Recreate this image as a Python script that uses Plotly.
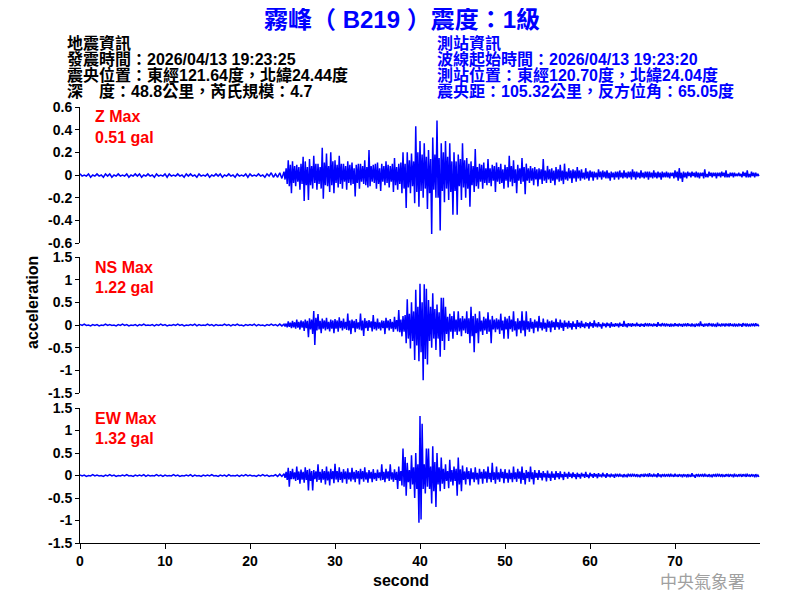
import numpy as np
import plotly.graph_objects as go

# ---------------- data ----------------
QUIET_STEP = 0.25     # s, spacing of the pre-event noise values (from t = 0)
ACTIVE_START = 24.0   # s, start of the event part
ACTIVE_STEP = 0.125   # s, spacing of the event part values

# Z component (gal)
Z_QUIET = [
    0.01, -0.01, 0.00, -0.01, 0.01, -0.02, 0.00, -0.01, 0.01, -0.01, 0.00, -0.02,
    0.01, -0.01, 0.01, -0.02, 0.00, -0.01, 0.01, -0.01, 0.00, -0.01, 0.01, -0.02,
    0.00, -0.01, 0.01, -0.01, 0.01, -0.02, 0.00, -0.01, 0.01, -0.01, 0.00, -0.02,
    0.01, -0.01, 0.00, -0.01, 0.01, -0.02, 0.01, -0.01, 0.00, -0.01, 0.01, -0.01,
    0.00, -0.02, 0.01, -0.01, 0.01, -0.01, 0.00, -0.02, 0.01, -0.01, 0.00, -0.01,
    0.01, -0.02, 0.00, -0.01, 0.01, -0.01, 0.01, -0.02, 0.00, -0.01, 0.01, -0.01,
    0.00, -0.02, 0.01, -0.01, 0.00, -0.01, 0.01, -0.02, 0.01, -0.01, 0.00, -0.01,
    0.01, -0.01, 0.00, -0.02, 0.01, -0.01, 0.02, -0.02, 0.01, -0.02, 0.02, -0.03,
]
Z_ACTIVE = [
    0.03, -0.04, 0.06, -0.08, 0.13, -0.10, 0.09, -0.16,   # 24 s
    0.12, -0.07, 0.08, -0.10, 0.09, -0.06, 0.07, -0.13,   # 25
    0.10, -0.08, 0.16, -0.23, 0.12, -0.09, 0.07, -0.22,   # 26
    0.14, -0.09, 0.08, -0.12, 0.17, -0.07, 0.10, -0.13,   # 27
    0.10, -0.08, 0.07, -0.12, 0.24, -0.21, 0.11, -0.09,   # 28
    0.19, -0.10, 0.08, -0.15, 0.20, -0.09, 0.12, -0.16,   # 29
    0.13, -0.07, 0.09, -0.11, 0.17, -0.08, 0.10, -0.12,   # 30
    0.10, -0.06, 0.08, -0.13, 0.12, -0.07, 0.09, -0.09,   # 31
    0.11, -0.08, 0.06, -0.19, 0.09, -0.07, 0.10, -0.12,   # 32
    0.10, -0.06, 0.08, -0.08, 0.13, -0.09, 0.07, -0.11,   # 33
    0.22, -0.10, 0.08, -0.06, 0.09, -0.07, 0.10, -0.12,   # 34
    0.11, -0.08, 0.06, -0.14, 0.10, -0.06, 0.08, -0.09,   # 35
    0.12, -0.07, 0.09, -0.11, 0.08, -0.06, 0.10, -0.15,   # 36
    0.15, -0.09, 0.07, -0.13, 0.10, -0.08, 0.11, -0.16,   # 37
    0.20, -0.12, 0.10, -0.29, 0.20, -0.11, 0.13, -0.16,   # 38
    0.19, -0.10, 0.12, -0.25, 0.43, -0.15, 0.20, -0.28,   # 39
    0.30, -0.14, 0.18, -0.20, 0.28, -0.12, 0.16, -0.30,   # 40
    0.22, -0.16, 0.14, -0.52, 0.33, -0.13, 0.18, -0.20,   # 41
    0.48, -0.20, 0.15, -0.49, 0.28, -0.14, 0.20, -0.24,   # 42
    0.30, -0.12, 0.16, -0.22, 0.28, -0.15, 0.12, -0.35,   # 43
    0.20, -0.14, 0.12, -0.35, 0.18, -0.10, 0.14, -0.22,   # 44
    0.28, -0.11, 0.13, -0.20, 0.15, -0.12, 0.10, -0.28,   # 45
    0.12, -0.09, 0.08, -0.15, 0.23, -0.10, 0.07, -0.12,   # 46
    0.10, -0.06, 0.09, -0.12, 0.11, -0.07, 0.06, -0.09,   # 47
    0.14, -0.07, 0.06, -0.10, 0.09, -0.05, 0.08, -0.15,   # 48
    0.11, -0.06, 0.07, -0.08, 0.10, -0.07, 0.05, -0.12,   # 49
    0.09, -0.05, 0.07, -0.11, 0.17, -0.06, 0.08, -0.10,   # 50
    0.13, -0.07, 0.05, -0.16, 0.09, -0.05, 0.06, -0.08,   # 51
    0.15, -0.06, 0.07, -0.17, 0.10, -0.05, 0.06, -0.07,   # 52
    0.08, -0.05, 0.06, -0.09, 0.07, -0.04, 0.05, -0.10,   # 53
    0.06, -0.04, 0.05, -0.08, 0.14, -0.05, 0.04, -0.07,   # 54
    0.08, -0.04, 0.05, -0.07, 0.06, -0.05, 0.04, -0.09,   # 55
    0.07, -0.04, 0.05, -0.06, 0.09, -0.05, 0.04, -0.08,   # 56
    0.10, -0.04, 0.03, -0.05, 0.06, -0.03, 0.04, -0.07,   # 57
    0.05, -0.03, 0.04, -0.06, 0.07, -0.03, 0.04, -0.05,   # 58
    0.05, -0.03, 0.02, -0.04, 0.06, -0.03, 0.03, -0.05,   # 59
    0.04, -0.02, 0.03, -0.05, 0.03, -0.02, 0.02, -0.04,   # 60
    0.05, -0.02, 0.03, -0.04, 0.04, -0.02, 0.03, -0.03,   # 61
    0.04, -0.03, 0.02, -0.05, 0.03, -0.02, 0.02, -0.04,   # 62
    0.03, -0.02, 0.03, -0.04, 0.04, -0.02, 0.02, -0.03,   # 63
    0.04, -0.02, 0.02, -0.03, 0.03, -0.02, 0.03, -0.04,   # 64
    0.05, -0.02, 0.03, -0.04, 0.03, -0.02, 0.02, -0.03,   # 65
    0.04, -0.02, 0.02, -0.03, 0.03, -0.02, 0.03, -0.04,   # 66
    0.03, -0.02, 0.02, -0.03, 0.04, -0.02, 0.02, -0.03,   # 67
    0.03, -0.02, 0.02, -0.04, 0.03, -0.02, 0.02, -0.02,   # 68
    0.03, -0.02, 0.02, -0.03, 0.02, -0.01, 0.02, -0.03,   # 69
    0.04, -0.02, 0.03, -0.05, 0.06, -0.03, 0.02, -0.06,   # 70
    0.03, -0.02, 0.02, -0.03, 0.03, -0.01, 0.02, -0.02,   # 71
    0.03, -0.01, 0.02, -0.02, 0.03, -0.02, 0.02, -0.03,   # 72
    0.02, -0.01, 0.02, -0.03, 0.05, -0.02, 0.01, -0.02,   # 73
    0.03, -0.01, 0.02, -0.02, 0.02, -0.01, 0.02, -0.03,   # 74
    0.02, -0.01, 0.02, -0.02, 0.03, -0.01, 0.02, -0.02,   # 75
    0.04, -0.02, 0.01, -0.02, 0.02, -0.01, 0.02, -0.02,   # 76
    0.02, -0.01, 0.01, -0.01, 0.02, -0.01, 0.01, -0.02,   # 77
    0.03, -0.01, 0.02, -0.02, 0.04, -0.02, 0.01, -0.02,   # 78
    0.03, -0.01, 0.02, -0.02, 0.02, -0.01, 0.01, -0.01,   # 79
]

# NS component (gal)
NS_QUIET = [
    0.01, -0.01, 0.02, -0.01, 0.00, -0.02, 0.01, -0.01, 0.01, -0.02, 0.00, -0.01,
    0.02, -0.01, 0.01, -0.01, 0.00, -0.02, 0.01, -0.01, 0.02, -0.01, 0.01, -0.02,
    0.00, -0.01, 0.01, -0.02, 0.01, -0.01, 0.02, -0.01, 0.00, -0.01, 0.01, -0.02,
    0.01, -0.01, 0.02, -0.01, 0.01, -0.02, 0.00, -0.01, 0.01, -0.01, 0.02, -0.01,
    0.01, -0.02, 0.00, -0.01, 0.01, -0.01, 0.02, -0.02, 0.01, -0.01, 0.00, -0.01,
    0.02, -0.01, 0.01, -0.02, 0.01, -0.01, 0.00, -0.01, 0.02, -0.01, 0.01, -0.02,
    0.01, -0.01, 0.02, -0.01, 0.00, -0.02, 0.01, -0.01, 0.01, -0.01, 0.02, -0.02,
    0.01, -0.01, 0.00, -0.02, 0.01, -0.01, 0.02, -0.01, 0.01, -0.02, 0.02, -0.02,
]
NS_ACTIVE = [
    0.02, -0.03, 0.03, -0.05, 0.08, -0.04, 0.05, -0.07,   # 24 s
    0.09, -0.05, 0.06, -0.08, 0.12, -0.06, 0.07, -0.10,   # 25
    0.10, -0.06, 0.08, -0.13, 0.12, -0.07, 0.09, -0.27,   # 26
    0.15, -0.10, 0.12, -0.20, 0.31, -0.44, 0.16, -0.12,   # 27
    0.24, -0.10, 0.09, -0.18, 0.14, -0.08, 0.10, -0.12,   # 28
    0.16, -0.09, 0.07, -0.14, 0.12, -0.08, 0.10, -0.18,   # 29
    0.13, -0.08, 0.10, -0.15, 0.17, -0.07, 0.09, -0.12,   # 30
    0.14, -0.08, 0.07, -0.11, 0.25, -0.12, 0.10, -0.20,   # 31
    0.12, -0.07, 0.09, -0.16, 0.13, -0.08, 0.06, -0.10,   # 32
    0.25, -0.12, 0.10, -0.24, 0.15, -0.07, 0.09, -0.13,   # 33
    0.11, -0.06, 0.08, -0.14, 0.22, -0.09, 0.07, -0.12,   # 34
    0.14, -0.08, 0.06, -0.12, 0.10, -0.07, 0.09, -0.20,   # 35
    0.16, -0.07, 0.10, -0.12, 0.13, -0.08, 0.07, -0.15,   # 36
    0.18, -0.09, 0.11, -0.14, 0.33, -0.16, 0.12, -0.25,   # 37
    0.20, -0.15, 0.22, -0.40, 0.57, -0.30, 0.25, -0.52,   # 38
    0.50, -0.35, 0.30, -0.77, 0.78, -0.45, 0.40, -0.80,   # 39
    0.91, -0.60, 0.50, -1.22, 0.90, -0.75, 0.80, -0.87,   # 40
    0.55, -0.35, 0.40, -0.50, 0.70, -0.30, 0.35, -0.55,   # 41
    0.45, -0.30, 0.28, -0.70, 0.60, -0.35, 0.60, -0.55,   # 42
    0.40, -0.20, 0.18, -0.35, 0.25, -0.15, 0.20, -0.30,   # 43
    0.30, -0.15, 0.12, -0.22, 0.30, -0.14, 0.15, -0.25,   # 44
    0.20, -0.12, 0.14, -0.18, 0.30, -0.20, 0.15, -0.40,   # 45
    0.40, -0.25, 0.20, -0.60, 0.25, -0.18, 0.15, -0.40,   # 46
    0.30, -0.14, 0.10, -0.22, 0.18, -0.12, 0.14, -0.20,   # 47
    0.28, -0.15, 0.12, -0.40, 0.20, -0.10, 0.12, -0.16,   # 48
    0.15, -0.10, 0.12, -0.20, 0.25, -0.12, 0.10, -0.30,   # 49
    0.18, -0.10, 0.14, -0.30, 0.20, -0.09, 0.12, -0.15,   # 50
    0.30, -0.12, 0.08, -0.25, 0.15, -0.10, 0.09, -0.18,   # 51
    0.30, -0.12, 0.10, -0.25, 0.30, -0.10, 0.08, -0.15,   # 52
    0.15, -0.08, 0.07, -0.18, 0.12, -0.06, 0.08, -0.14,   # 53
    0.20, -0.07, 0.06, -0.12, 0.14, -0.08, 0.05, -0.15,   # 54
    0.12, -0.06, 0.08, -0.16, 0.10, -0.05, 0.07, -0.11,   # 55
    0.14, -0.05, 0.06, -0.10, 0.12, -0.06, 0.05, -0.13,   # 56
    0.10, -0.04, 0.05, -0.08, 0.09, -0.05, 0.04, -0.10,   # 57
    0.08, -0.04, 0.03, -0.09, 0.11, -0.04, 0.05, -0.07,   # 58
    0.09, -0.04, 0.03, -0.07, 0.06, -0.03, 0.04, -0.08,   # 59
    0.07, -0.03, 0.04, -0.06, 0.10, -0.03, 0.03, -0.05,   # 60
    0.06, -0.03, 0.02, -0.08, 0.05, -0.02, 0.03, -0.05,   # 61
    0.05, -0.02, 0.03, -0.06, 0.06, -0.03, 0.02, -0.04,   # 62
    0.04, -0.02, 0.03, -0.05, 0.05, -0.02, 0.02, -0.04,   # 63
    0.09, -0.03, 0.02, -0.05, 0.04, -0.02, 0.03, -0.04,   # 64
    0.04, -0.02, 0.02, -0.03, 0.05, -0.02, 0.02, -0.04,   # 65
    0.03, -0.02, 0.02, -0.04, 0.04, -0.01, 0.02, -0.03,   # 66
    0.04, -0.02, 0.01, -0.03, 0.03, -0.02, 0.02, -0.04,   # 67
    0.06, -0.02, 0.02, -0.03, 0.04, -0.01, 0.02, -0.03,   # 68
    0.03, -0.01, 0.02, -0.04, 0.03, -0.02, 0.01, -0.03,   # 69
    0.04, -0.02, 0.02, -0.03, 0.03, -0.01, 0.02, -0.04,   # 70
    0.03, -0.01, 0.02, -0.03, 0.04, -0.02, 0.01, -0.03,   # 71
    0.03, -0.02, 0.01, -0.04, 0.03, -0.01, 0.02, -0.03,   # 72
    0.08, -0.02, 0.02, -0.04, 0.03, -0.01, 0.02, -0.03,   # 73
    0.04, -0.01, 0.02, -0.03, 0.03, -0.02, 0.01, -0.04,   # 74
    0.05, -0.02, 0.01, -0.03, 0.03, -0.01, 0.02, -0.03,   # 75
    0.03, -0.01, 0.02, -0.03, 0.04, -0.02, 0.01, -0.03,   # 76
    0.03, -0.02, 0.01, -0.03, 0.03, -0.01, 0.02, -0.04,   # 77
    0.04, -0.01, 0.02, -0.03, 0.03, -0.02, 0.01, -0.03,   # 78
    0.03, -0.01, 0.02, -0.03, 0.04, -0.02, 0.01, -0.03,   # 79
]

# EW component (gal)
EW_QUIET = [
    0.01, -0.01, 0.01, -0.02, 0.00, -0.01, 0.02, -0.01, 0.01, -0.01, 0.00, -0.02,
    0.01, -0.01, 0.02, -0.01, 0.01, -0.02, 0.00, -0.01, 0.01, -0.01, 0.02, -0.01,
    0.00, -0.02, 0.01, -0.01, 0.01, -0.01, 0.02, -0.02, 0.01, -0.01, 0.00, -0.01,
    0.02, -0.01, 0.01, -0.02, 0.01, -0.01, 0.00, -0.01, 0.02, -0.01, 0.01, -0.02,
    0.00, -0.01, 0.01, -0.01, 0.02, -0.02, 0.01, -0.01, 0.00, -0.02, 0.01, -0.01,
    0.01, -0.01, 0.02, -0.01, 0.00, -0.02, 0.01, -0.01, 0.01, -0.02, 0.02, -0.01,
    0.00, -0.01, 0.01, -0.02, 0.01, -0.01, 0.02, -0.01, 0.01, -0.01, 0.00, -0.02,
    0.01, -0.01, 0.02, -0.01, 0.01, -0.02, 0.00, -0.01, 0.02, -0.02, 0.03, -0.02,
]
EW_ACTIVE = [
    0.04, -0.05, 0.08, -0.10, 0.17, -0.25, 0.10, -0.08,   # 24 s
    0.15, -0.08, 0.07, -0.12, 0.20, -0.10, 0.09, -0.18,   # 25
    0.13, -0.09, 0.08, -0.16, 0.18, -0.10, 0.12, -0.33,   # 26
    0.15, -0.12, 0.10, -0.33, 0.12, -0.08, 0.09, -0.14,   # 27
    0.25, -0.10, 0.08, -0.16, 0.14, -0.09, 0.10, -0.20,   # 28
    0.20, -0.11, 0.09, -0.22, 0.15, -0.08, 0.10, -0.17,   # 29
    0.26, -0.09, 0.10, -0.15, 0.18, -0.10, 0.08, -0.16,   # 30
    0.14, -0.08, 0.09, -0.18, 0.16, -0.09, 0.07, -0.13,   # 31
    0.17, -0.09, 0.08, -0.15, 0.12, -0.07, 0.10, -0.20,   # 32
    0.15, -0.08, 0.10, -0.14, 0.18, -0.09, 0.07, -0.16,   # 33
    0.12, -0.07, 0.08, -0.15, 0.14, -0.08, 0.06, -0.12,   # 34
    0.13, -0.06, 0.07, -0.11, 0.25, -0.10, 0.08, -0.15,   # 35
    0.15, -0.07, 0.09, -0.12, 0.25, -0.09, 0.07, -0.14,   # 36
    0.14, -0.10, 0.08, -0.30, 0.20, -0.12, 0.10, -0.22,   # 37
    0.60, -0.25, 0.41, -0.45, 0.28, -0.15, 0.12, -0.30,   # 38
    0.45, -0.20, 0.18, -0.50, 0.50, -0.30, 0.25, -1.05,   # 39
    1.32, -0.98, 1.15, -0.30, 0.25, -0.40, 0.60, -0.25,   # 40
    0.60, -0.30, 0.20, -0.62, 0.65, -0.35, 0.30, -0.70,   # 41
    0.50, -0.20, 0.18, -0.35, 0.40, -0.18, 0.15, -0.30,   # 42
    0.25, -0.12, 0.10, -0.28, 0.35, -0.14, 0.12, -0.22,   # 43
    0.20, -0.12, 0.15, -0.45, 0.40, -0.20, 0.14, -0.35,   # 44
    0.22, -0.10, 0.09, -0.20, 0.18, -0.08, 0.10, -0.22,   # 45
    0.16, -0.08, 0.07, -0.15, 0.18, -0.09, 0.06, -0.20,   # 46
    0.15, -0.07, 0.08, -0.18, 0.14, -0.07, 0.09, -0.16,   # 47
    0.20, -0.08, 0.06, -0.15, 0.28, -0.10, 0.07, -0.18,   # 48
    0.20, -0.09, 0.07, -0.14, 0.15, -0.06, 0.08, -0.17,   # 49
    0.14, -0.07, 0.06, -0.16, 0.13, -0.08, 0.06, -0.15,   # 50
    0.20, -0.08, 0.07, -0.14, 0.15, -0.07, 0.09, -0.18,   # 51
    0.20, -0.10, 0.06, -0.20, 0.12, -0.06, 0.08, -0.14,   # 52
    0.20, -0.08, 0.07, -0.20, 0.12, -0.05, 0.06, -0.10,   # 53
    0.12, -0.05, 0.06, -0.11, 0.10, -0.04, 0.05, -0.13,   # 54
    0.11, -0.05, 0.04, -0.12, 0.09, -0.05, 0.04, -0.10,   # 55
    0.10, -0.04, 0.05, -0.08, 0.09, -0.04, 0.03, -0.10,   # 56
    0.08, -0.03, 0.04, -0.07, 0.08, -0.03, 0.04, -0.06,   # 57
    0.07, -0.03, 0.03, -0.08, 0.06, -0.03, 0.03, -0.07,   # 58
    0.06, -0.02, 0.03, -0.05, 0.08, -0.03, 0.02, -0.06,   # 59
    0.06, -0.02, 0.03, -0.05, 0.05, -0.02, 0.03, -0.06,   # 60
    0.05, -0.02, 0.02, -0.04, 0.06, -0.02, 0.02, -0.05,   # 61
    0.05, -0.02, 0.02, -0.04, 0.04, -0.02, 0.02, -0.05,   # 62
    0.04, -0.01, 0.02, -0.03, 0.04, -0.02, 0.01, -0.04,   # 63
    0.03, -0.02, 0.01, -0.04, 0.04, -0.01, 0.02, -0.03,   # 64
    0.04, -0.01, 0.02, -0.03, 0.03, -0.02, 0.01, -0.04,   # 65
    0.03, -0.01, 0.02, -0.03, 0.04, -0.01, 0.02, -0.03,   # 66
    0.05, -0.02, 0.01, -0.03, 0.04, -0.02, 0.02, -0.04,   # 67
    0.05, -0.02, 0.02, -0.04, 0.03, -0.01, 0.02, -0.03,   # 68
    0.03, -0.01, 0.02, -0.03, 0.04, -0.02, 0.01, -0.03,   # 69
    0.04, -0.02, 0.01, -0.03, 0.03, -0.01, 0.02, -0.04,   # 70
    0.03, -0.01, 0.02, -0.04, 0.03, -0.02, 0.01, -0.03,   # 71
    0.05, -0.02, 0.01, -0.05, 0.03, -0.01, 0.02, -0.03,   # 72
    0.03, -0.01, 0.02, -0.03, 0.04, -0.02, 0.01, -0.03,   # 73
    0.03, -0.02, 0.01, -0.04, 0.03, -0.01, 0.02, -0.03,   # 74
    0.04, -0.01, 0.02, -0.03, 0.03, -0.02, 0.01, -0.03,   # 75
    0.03, -0.01, 0.02, -0.03, 0.03, -0.01, 0.02, -0.04,   # 76
    0.04, -0.02, 0.01, -0.03, 0.03, -0.01, 0.02, -0.03,   # 77
    0.03, -0.01, 0.02, -0.03, 0.04, -0.02, 0.01, -0.03,   # 78
    0.03, -0.01, 0.02, -0.04, 0.03, -0.02, 0.01, -0.03,   # 79
]

COMPONENT_NAMES = ["Z Max", "NS Max", "EW Max"]
PEAK_LABELS = ["0.51 gal", "1.22 gal", "1.32 gal"]

Z_TICKVALS = [0.6, 0.4, 0.2, 0, -0.2, -0.4, -0.6]
Z_TICKTEXT = ["0.6", "0.4", "0.2", "0", "-0.2", "-0.4", "-0.6"]
H_TICKVALS = [1.5, 1, 0.5, 0, -0.5, -1, -1.5]
H_TICKTEXT = ["1.5", "1", "0.5", "0", "-0.5", "-1", "-1.5"]
X_TICKVALS = [0, 10, 20, 30, 40, 50, 60, 70]

TITLE = "霧峰（ B219 ）震度：1級"
LEFT_INFO = ["地震資訊",
             "發震時間：2026/04/13 19:23:25",
             "震央位置：東經121.64度，北緯24.44度",
             "深　度：48.8公里，芮氏規模：4.7"]
RIGHT_INFO = ["測站資訊",
              "波線起始時間：2026/04/13 19:23:20",
              "測站位置：東經120.70度，北緯24.04度",
              "震央距：105.32公里，反方位角：65.05度"]
LOGO = "中央氣象署"

# ---------------- figure ----------------
FONT = "Liberation Sans, Arial, 'Noto Sans CJK TC', sans-serif"
BLUE = "#0000ff"
PAGE_OFF = 8                      # default page margin of the browser
W, H = 800 - PAGE_OFF, 600 - PAGE_OFF
PL, PR, PT, PB = 80, 760, 107, 543  # plot area in page pixels


def px_x(x):
    return (x - PL) / (PR - PL)


def px_y(y):
    return (PB - y) / (PB - PT)


def series(quiet, active):
    t_q = np.arange(len(quiet)) * QUIET_STEP
    t_a = ACTIVE_START + np.arange(len(active)) * ACTIVE_STEP
    return np.concatenate([t_q, t_a]), np.array(quiet + active)


fig = go.Figure()
for (q, a), yref in zip([(Z_QUIET, Z_ACTIVE), (NS_QUIET, NS_ACTIVE), (EW_QUIET, EW_ACTIVE)],
                        ["y", "y2", "y3"]):
    t, v = series(q, a)
    fig.add_trace(go.Scatter(x=t, y=v, mode="lines", xaxis="x", yaxis=yref,
                             line=dict(color=BLUE, width=1.5, simplify=False),
                             hoverinfo="skip", showlegend=False))

tickfont = dict(family=FONT, size=14, color="black", weight="bold")
yax_common = dict(showgrid=False, zeroline=False, showline=True, linecolor="black",
                  linewidth=1, ticks="outside", ticklen=4, tickcolor="black",
                  tickfont=tickfont, anchor="x", fixedrange=True)

fig.update_layout(
    width=W, height=H,
    margin=dict(l=PL - PAGE_OFF, r=800 - PR, t=PT - PAGE_OFF, b=600 - PB),
    plot_bgcolor="white", paper_bgcolor="white",
    xaxis=dict(range=[0, 80], tickvals=X_TICKVALS, showgrid=False, zeroline=False,
               showline=True, linecolor="black", linewidth=1, ticks="outside",
               ticklen=5, tickcolor="black", tickfont=tickfont, anchor="y3",
               fixedrange=True),
    yaxis=dict(domain=[px_y(243), 1.0], range=[-0.6, 0.6], tickvals=Z_TICKVALS,
               ticktext=Z_TICKTEXT, **yax_common),
    yaxis2=dict(domain=[px_y(393), px_y(257)], range=[-1.5, 1.5], tickvals=H_TICKVALS,
                ticktext=H_TICKTEXT, **yax_common),
    yaxis3=dict(domain=[0.0, px_y(408)], range=[-1.5, 1.5], tickvals=H_TICKVALS,
                ticktext=H_TICKTEXT, **yax_common),
)

ann = []
ann.append(dict(text=TITLE, x=px_x(402), y=px_y(19), xanchor="center", yanchor="middle",
                font=dict(family=FONT, size=24, color=BLUE, weight="bold")))
for i, s in enumerate(LEFT_INFO):
    ann.append(dict(text=s, x=px_x(65), y=px_y(43 + 16 * i), xanchor="left", yanchor="middle",
                    font=dict(family=FONT, size=16, color="black", weight="bold")))
for i, s in enumerate(RIGHT_INFO):
    ann.append(dict(text=s, x=px_x(435), y=px_y(43 + 16 * i), xanchor="left", yanchor="middle",
                    font=dict(family=FONT, size=16, color=BLUE, weight="bold")))
for name, lab, ytop in zip(COMPONENT_NAMES, PEAK_LABELS, [117, 267, 418]):
    ann.append(dict(text=name, x=px_x(93), y=px_y(ytop), xanchor="left", yanchor="middle",
                    font=dict(family=FONT, size=16, color="red", weight="bold")))
    ann.append(dict(text=lab, x=px_x(93), y=px_y(ytop + 20), xanchor="left", yanchor="middle",
                    font=dict(family=FONT, size=16, color="red", weight="bold")))
ann.append(dict(text="acceleration", x=px_x(32), y=px_y(303), textangle=-90,
                xanchor="center", yanchor="middle",
                font=dict(family=FONT, size=16, color="black", weight="bold")))
ann.append(dict(text="second", x=px_x(401), y=px_y(580), xanchor="center", yanchor="middle",
                font=dict(family=FONT, size=16, color="black", weight="bold")))
ann.append(dict(text=LOGO, x=px_x(702), y=px_y(580), xanchor="center", yanchor="middle",
                font=dict(family="'Noto Sans CJK TC', sans-serif", size=17, color="#a0a0a0")))
for a in ann:
    a.update(xref="paper", yref="paper", showarrow=False)
fig.update_layout(annotations=ann)

fig.write_html("out.html")
